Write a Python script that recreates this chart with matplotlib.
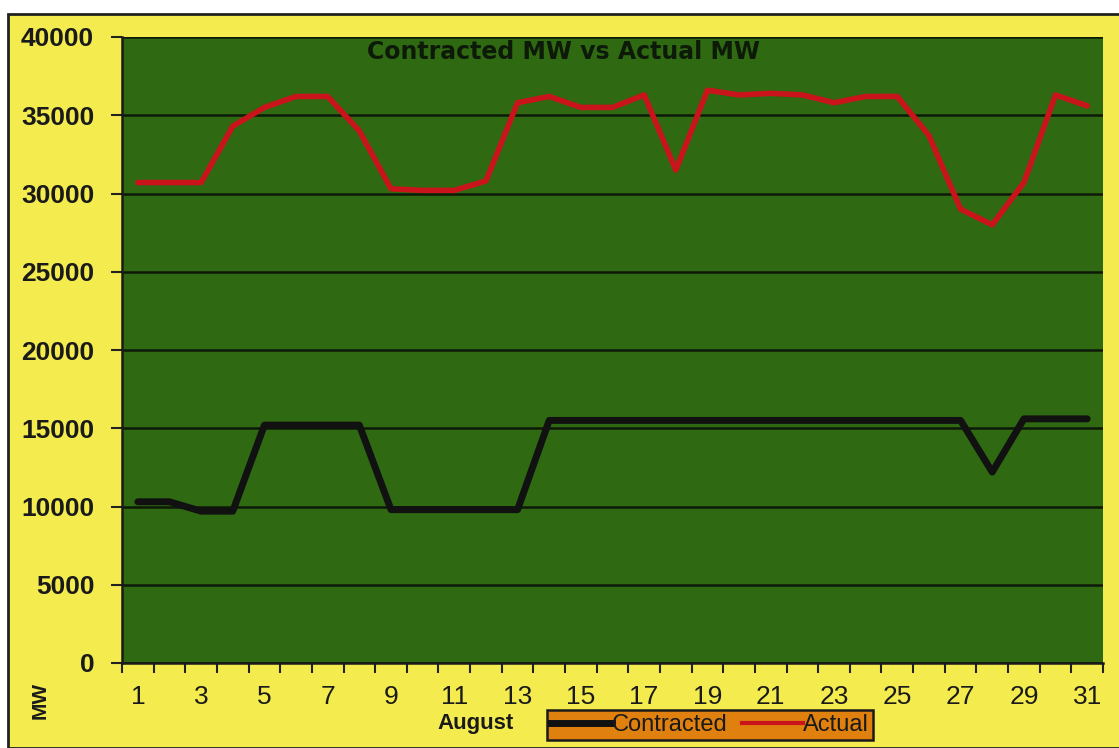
import matplotlib.pyplot as plt
import numpy as np
from matplotlib.patches import Rectangle
from matplotlib.lines import Line2D

plt.rcParams['font.family'] = ['Liberation Sans', 'DejaVu Sans']

# daily values for August
days = list(range(1, 32))
contracted = [10300, 10300, 9700, 9700, 15200, 15200, 15200, 15200, 9800, 9800,
              9800, 9800, 9800, 15500, 15500, 15500, 15500, 15500, 15500, 15500,
              15500, 15500, 15500, 15500, 15500, 15500, 15500, 12200, 15600, 15600,
              15600]
actual = [30700, 30700, 30700, 34300, 35500, 36200, 36200, 34000, 30300, 30200,
          30200, 30800, 35800, 36200, 35500, 35500, 36300, 31500, 36600, 36300,
          36400, 36300, 35800, 36200, 36200, 33700, 29000, 28000, 30700, 36300,
          35600]
y_ticks = [0, 5000, 10000, 15000, 20000, 25000, 30000, 35000, 40000]

fig = plt.figure(figsize=(11.19, 7.48), dpi=100)
fig.patch.set_facecolor('white')
fig.patches.append(Rectangle((8 / 1119, 0), 1.0, 1 - 14 / 748, transform=fig.transFigure,
                             facecolor='#f4ec4e', edgecolor='#222222', lw=2, zorder=-5))

ax = fig.add_axes([122 / 1119, 1 - 663 / 748, (1103 - 122) / 1119, (663 - 37) / 748])
ax.set_zorder(2)
ax.set_facecolor('#2f6a12')

ax.plot(days, contracted, color='#111111', lw=5, solid_joinstyle='round',
        solid_capstyle='round', label='Contracted')
ax.plot(days, actual, color='#c8141a', lw=4, solid_joinstyle='round',
        solid_capstyle='round', label='Actual')

ax.set_xlim(0.5, 31.5)
ax.set_ylim(0, 40000)
ax.set_yticks(y_ticks)
ax.set_yticklabels([str(v) for v in y_ticks], fontsize=19, fontweight='bold', color='#1a1a1a')
ax.yaxis.grid(True, color='#0d1a08', lw=1.8)
ax.set_axisbelow(True)

ax.set_xticks(np.arange(0.5, 32, 1))
ax.set_xticklabels([])
ax.set_xticks(days[::2], minor=True)
ax.set_xticklabels([str(d) for d in days[::2]], minor=True, fontsize=19, color='#1a1a1a')
ax.tick_params(axis='x', which='minor', length=0, pad=16)
ax.tick_params(axis='x', which='major', length=7, width=1.5, color='#222222')
ax.tick_params(axis='y', length=8, width=1.5, color='#222222', pad=12)

for s in ['top', 'right']:
    ax.spines[s].set_visible(False)
for s in ['left', 'bottom']:
    ax.spines[s].set_linewidth(1.8)
    ax.spines[s].set_color('#1a1a1a')

ax.text((563 - 122) / 981, 0.995, 'Contracted MW vs Actual MW', transform=ax.transAxes,
        ha='center', va='top', fontsize=17, fontweight='bold', color='#0d1a08',
        family='DejaVu Sans')

fig.text(40 / 1119, 1 - 700 / 748, 'MW', rotation=90, ha='center', va='center',
         fontsize=15, fontweight='bold', color='#1a1a1a')
fig.text(476 / 1119, 1 - 723 / 748, 'August', ha='center', va='center',
         fontsize=16, fontweight='bold', color='#1a1a1a')

handles = [Line2D([], [], color='#111111', lw=5), Line2D([], [], color='#c8141a', lw=3)]
leg = fig.legend(handles, ['Contracted', 'Actual'], ncol=2, loc='center',
                 bbox_to_anchor=(710 / 1119, 1 - 725 / 748), fontsize=17,
                 facecolor='#e0800e', edgecolor='#1a1a1a', framealpha=1, fancybox=False,
                 handlelength=2.6, handletextpad=0.0, columnspacing=0.6,
                 borderpad=0.15, borderaxespad=0, labelcolor='#1a1a1a')
leg.get_frame().set_linewidth(1.8)

fig.savefig('out.png', dpi=100, facecolor=fig.get_facecolor())
